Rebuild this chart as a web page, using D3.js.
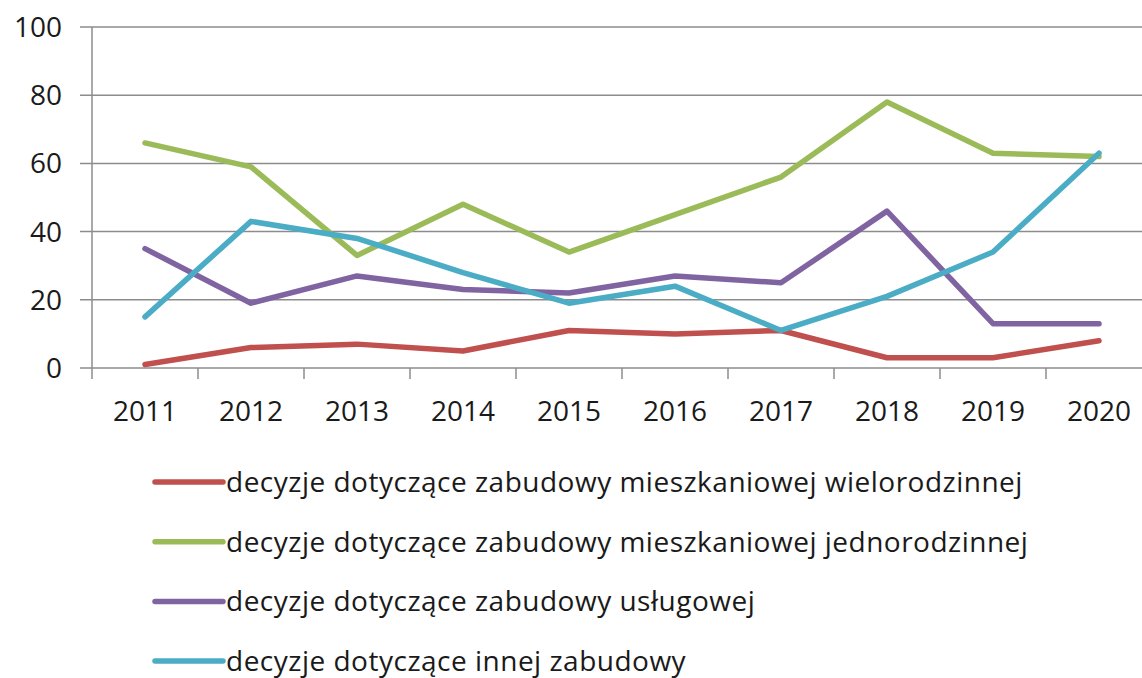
<!DOCTYPE html>
<html>
<head>
<meta charset="utf-8">
<script src="https://cdn.jsdelivr.net/npm/d3@7"></script>
<style>
  body { margin: 0; background: #fff; }
  text { font-family: "Open Sans", "Noto Sans", sans-serif; fill: #1a1a1a; }
</style>
</head>
<body>
<div id="chart"></div>
<script>
// data
var years = ["2011", "2012", "2013", "2014", "2015", "2016", "2017", "2018", "2019", "2020"];
var wielorodzinna = [1, 6, 7, 5, 11, 10, 11, 3, 3, 8];
var jednorodzinna = [66, 59, 33, 48, 34, 45, 56, 78, 63, 62];
var uslugowa = [35, 19, 27, 23, 22, 27, 25, 46, 13, 13];
var inna = [15, 43, 38, 28, 19, 24, 11, 21, 34, 63];
var yTicks = [0, 20, 40, 60, 80, 100];
var seriesNames = [
  "decyzje dotyczące zabudowy mieszkaniowej wielorodzinnej",
  "decyzje dotyczące zabudowy mieszkaniowej jednorodzinnej",
  "decyzje dotyczące zabudowy usługowej",
  "decyzje dotyczące innej zabudowy"
];
var colors = ["#C0504D", "#9BBB59", "#8064A2", "#4BACC6"];

var svgWidth = 1142;
var svgHeight = 678;
var margin = { top: 27, right: -10, bottom: 310, left: 92 };
var width = svgWidth - margin.left - margin.right;
var height = svgHeight - margin.top - margin.bottom;

var svg = d3.select("#chart")
  .append("svg")
  .attr("width", svgWidth)
  .attr("height", svgHeight);

var chartGroup = svg.append("g")
  .attr("transform", `translate(${margin.left}, ${margin.top})`);

var xBand = d3.scaleBand().domain(years).range([0, width]);
var yLinearScale = d3.scaleLinear().domain([0, 100]).range([height, 0]);

// gridlines
chartGroup.append("g")
  .selectAll("line")
  .data(yTicks)
  .enter()
  .append("line")
  .attr("x1", -12)
  .attr("x2", width)
  .attr("y1", d => yLinearScale(d))
  .attr("y2", d => yLinearScale(d))
  .attr("stroke", "#8c8c8c")
  .attr("stroke-width", 1.5);

// y axis line
chartGroup.append("line")
  .attr("x1", 0).attr("x2", 0)
  .attr("y1", 0).attr("y2", height + 11)
  .attr("stroke", "#8c8c8c")
  .attr("stroke-width", 1.5);

// x tick marks at band edges
chartGroup.append("g")
  .selectAll("line")
  .data(years.slice(1))
  .enter()
  .append("line")
  .attr("x1", d => xBand(d))
  .attr("x2", d => xBand(d))
  .attr("y1", height)
  .attr("y2", height + 11)
  .attr("stroke", "#8c8c8c")
  .attr("stroke-width", 1.5);

// y labels
chartGroup.append("g")
  .selectAll("text")
  .data(yTicks)
  .enter()
  .append("text")
  .attr("x", -30)
  .attr("y", d => yLinearScale(d))
  .attr("dy", "0.36em")
  .attr("text-anchor", "end")
  .attr("font-size", 28)
  .text(d => d);

// x labels
chartGroup.append("g")
  .selectAll("text")
  .data(years)
  .enter()
  .append("text")
  .attr("x", d => xBand(d) + xBand.bandwidth() / 2)
  .attr("y", height + 53)
  .attr("text-anchor", "middle")
  .attr("font-size", 28)
  .text(d => d);

// lines
var allSeries = [wielorodzinna, jednorodzinna, uslugowa, inna];
var line = d3.line()
  .x((d, i) => xBand(years[i]) + xBand.bandwidth() / 2)
  .y(d => yLinearScale(d));

chartGroup.selectAll(".series")
  .data(allSeries)
  .enter()
  .append("path")
  .attr("class", "series")
  .attr("d", d => line(d))
  .attr("fill", "none")
  .attr("stroke", (d, i) => colors[i])
  .attr("stroke-width", 5.5)
  .attr("stroke-linejoin", "round")
  .attr("stroke-linecap", "round");

// legend
var legend = svg.append("g").attr("transform", "translate(155, 482)");
var legendItems = legend.selectAll("g")
  .data(seriesNames)
  .enter()
  .append("g")
  .attr("transform", (d, i) => `translate(0, ${i * 59.7})`);

legendItems.append("line")
  .attr("x1", 0).attr("x2", 68)
  .attr("y1", 0).attr("y2", 0)
  .attr("stroke", (d, i) => colors[i])
  .attr("stroke-width", 5.5)
  .attr("stroke-linecap", "round");

legendItems.append("text")
  .attr("x", 71)
  .attr("dy", "0.35em")
  .attr("font-size", 28)
  .attr("letter-spacing", 0.5)
  .text(d => d);
</script>
</body>
</html>
